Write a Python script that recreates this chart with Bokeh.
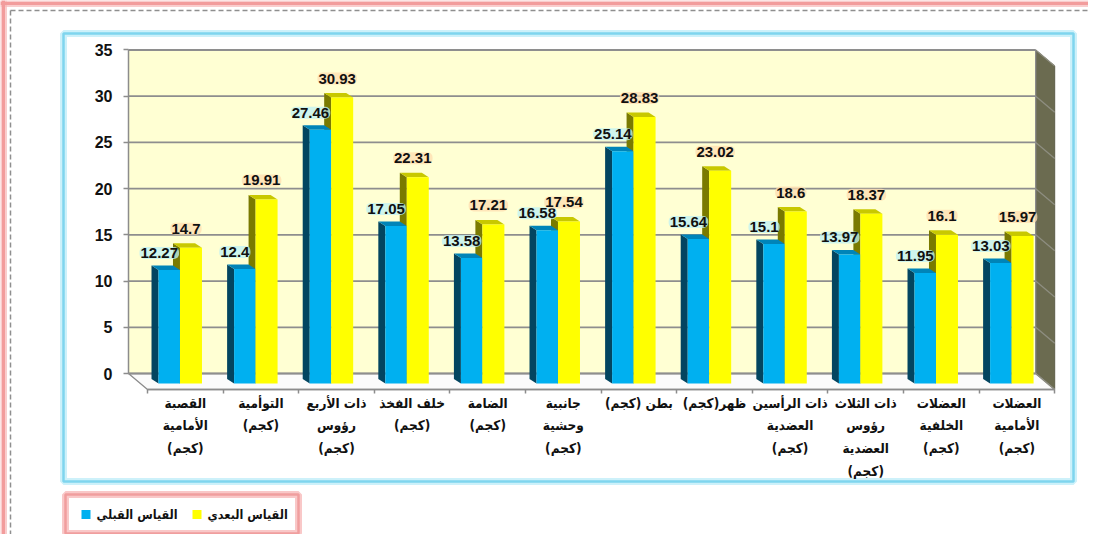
from bokeh.plotting import figure
from bokeh.models import Range1d, FixedTicker, LinearAxis, CustomJSTickFormatter
from bokeh.core.properties import value
from bokeh.embed import file_html
from bokeh.resources import INLINE

# ---------------- data ----------------
categories = [
    "القصبة\nالأمامية\n(كجم)",
    "التوأمية\n(كجم)",
    "ذات الأربع\nرؤوس\n(كجم)",
    "خلف الفخذ\n(كجم)",
    "الضامة\n(كجم)",
    "جانبية\nوحشية\n(كجم)",
    "بطن (كجم)",
    "ظهر(كجم)",
    "ذات الرأسين\nالعضدية\n(كجم)",
    "ذات الثلاث\nرؤوس\nالعضدية\n(كجم)",
    "العضلات\nالخلفية\n(كجم)",
    "العضلات\nالأمامية\n(كجم)",
]
pre_values = [12.27, 12.4, 27.46, 17.05, 13.58, 16.58, 25.14, 15.64, 15.1, 13.97, 11.95, 13.03]
post_values = [14.7, 19.91, 30.93, 22.31, 17.21, 17.54, 28.83, 23.02, 18.6, 18.37, 16.1, 15.97]
y_ticks = [0, 5, 10, 15, 20, 25, 30, 35]
series_names = ["القياس القبلي", "القياس البعدي"]
series_colors = ["#00B0F0", "#FFFF00"]

# ---------------- layout helpers ----------------
W, H = 1088, 534
PX, PY = 75.6, 9.243        # pixels per category / per value unit
OX, OY = 128, 373           # canvas position of back-wall origin
def dx(px): return px / PX
def dy(py): return py / PY
def X(cx): return (cx - OX) / PX
def Y(cy): return (OY - cy) / PY

n = len(categories)
ymin, ymax = y_ticks[0], y_ticks[-1]
DX, DY = dx(19), dy(16)          # floor / side-wall depth
FB = -dy(10)                     # bar front base
BDX, BDY = dx(7), dy(4.5)        # bar depth
BL, BM, BR = 0.397, 0.681, 0.972 # bar slots in category

AR_FONT = "DejaVu Sans Condensed"
NUM_FONT = "Liberation Sans"

p = figure(width=W, height=H, x_range=Range1d(X(0), X(W)), y_range=Range1d(Y(H), Y(0)),
           output_backend="svg", toolbar_location=None, min_border=0,
           x_axis_location=None, y_axis_location=None,
           background_fill_color="white", border_fill_color="white", outline_line_color=None)
p.grid.visible = False

# ---------------- decorations ----------------
# outer page frame (pink glow + dashed line)
p.segment(x0=[X(0), X(3)], y0=[Y(3), Y(0)], x1=[X(W), X(3)], y1=[Y(3), Y(H)],
          line_color="#F7B8B8", line_width=7, line_alpha=0.7)
p.segment(x0=[X(0), X(3)], y0=[Y(3), Y(0)], x1=[X(W), X(3)], y1=[Y(3), Y(H)],
          line_color="#F29C9C", line_width=3)
p.segment(x0=[X(10), X(10)], y0=[Y(10), Y(10)], x1=[X(W), X(10)], y1=[Y(10), Y(H)],
          line_color="#8F8F8F", line_width=1.5, line_dash="5 3")
# chart box (cyan)
p.quad(left=X(63), right=X(1073), top=Y(33), bottom=Y(481),
       fill_color="white", line_color="#CDF1FA", line_width=7)
p.quad(left=X(63), right=X(1073), top=Y(33), bottom=Y(481),
       fill_color=None, line_color="#7FD5EE", line_width=2.5)

# ---------------- 3D walls ----------------
p.quad(left=0, right=n, bottom=ymin, top=ymax, fill_color="#FFFFD3", line_color=None)
p.patch([n, n + DX, n + DX, n], [ymax, ymax - DY, ymin - DY, ymin],
        fill_color="#6B6B50", line_color="#5E5E48", line_width=1)
p.patch([0, n, n + DX, DX], [ymin, ymin, ymin - DY, ymin - DY],
        fill_color="#FBFBFB", line_color="#8C8C8C", line_width=1.3)
# gridlines on back wall and side wall
p.segment(x0=[0] * len(y_ticks), y0=y_ticks, x1=[n] * len(y_ticks), y1=y_ticks,
          line_color="#8E8E8E", line_width=1.8)
p.segment(x0=[n] * len(y_ticks), y0=y_ticks, x1=[n + DX] * len(y_ticks), y1=[t - DY for t in y_ticks],
          line_color="#8E8E80", line_width=1.3)
p.segment(x0=[n], y0=[ymin], x1=[n], y1=[ymax], line_color="#8E8E8E", line_width=1.3)

# ---------------- bars ----------------
idx = list(range(n))
def side(xe, v):
    return [xe, xe, xe - BDX, xe - BDX], [FB, v + FB, v + FB + BDY, FB + BDY]
def top(xl, xr, v):
    return [xl, xr, xr - BDX, xl - BDX], [v + FB, v + FB, v + FB + BDY, v + FB + BDY]

ys_side = [side(i + BM, v) for i, v in zip(idx, post_values)]
p.patches(xs=[s[0] for s in ys_side], ys=[s[1] for s in ys_side], fill_color="#7A7A00", line_color=None)
ys_top = [top(i + BM, i + BR, v) for i, v in zip(idx, post_values)]
p.patches(xs=[s[0] for s in ys_top], ys=[s[1] for s in ys_top], fill_color="#C8C800", line_color=None)

bs_side = [side(i + BL, v) for i, v in zip(idx, pre_values)]
p.patches(xs=[s[0] for s in bs_side], ys=[s[1] for s in bs_side], fill_color="#034560", line_color=None)
bs_top = [top(i + BL, i + BM, v) for i, v in zip(idx, pre_values)]
p.patches(xs=[s[0] for s in bs_top], ys=[s[1] for s in bs_top], fill_color="#0084B8", line_color=None)
p.quad(left=[i + BL for i in idx], right=[i + BM for i in idx],
       bottom=[FB] * n, top=[v + FB for v in pre_values],
       fill_color=series_colors[0], line_color=None)
p.quad(left=[i + BM for i in idx], right=[i + BR for i in idx],
       bottom=[FB] * n, top=[v + FB for v in post_values],
       fill_color=series_colors[1], line_color=None)

# ---------------- data labels ----------------
LAB_UP = dy(17)
p.text(x=[i + (BL + BM) / 2 - dx(10) for i in idx], y=[v + FB + LAB_UP for v in pre_values],
       text=[str(v) for v in pre_values], text_align="center", text_baseline="middle",
       text_font=value(NUM_FONT), text_font_style="bold", text_font_size="15px", text_color="#111111",
       background_fill_color="#BFF2F4", background_fill_alpha=0.75, border_radius=5, padding=1)
p.text(x=[i + (BM + BR) / 2 - dx(5) for i in idx], y=[v + FB + LAB_UP + dy(2) for v in post_values],
       text=[str(v) for v in post_values], text_align="center", text_baseline="middle",
       text_font=value(NUM_FONT), text_font_style="bold", text_font_size="15px", text_color="#111111",
       background_fill_color="#FFDDB0", background_fill_alpha=0.75, border_radius=5, padding=1)

# ---------------- category labels ----------------
p.text(x=[i + 0.5 + DX for i in idx], y=[ymin - dy(21)] * n, text=categories,
       text_align="center", text_baseline="top", text_line_height=1.42,
       text_font=value(AR_FONT), text_font_style="bold", text_font_size="13.5px", text_color="#111111")

# ---------------- axes ----------------
yaxis = LinearAxis(fixed_location=0, bounds=(ymin, ymax), ticker=FixedTicker(ticks=y_ticks),
                   axis_line_color="#8C8C8C", axis_line_width=1.5,
                   major_tick_line_color="#8C8C8C", major_tick_line_width=1.5,
                   major_tick_out=5, major_tick_in=0, minor_tick_line_color=None,
                   major_label_text_font=NUM_FONT, major_label_text_font_style="bold",
                   major_label_text_font_size="16px", major_label_text_color="#111111",
                   major_label_standoff=11)
p.add_layout(yaxis, "left")
xaxis = LinearAxis(fixed_location=ymin - DY, bounds=(DX, n + DX),
                   ticker=FixedTicker(ticks=[k + DX for k in range(n + 1)]),
                   formatter=CustomJSTickFormatter(code="return ''"),
                   axis_line_color="#8C8C8C", axis_line_width=1.5,
                   major_tick_line_color="#8C8C8C", major_tick_line_width=1.5,
                   major_tick_out=4, major_tick_in=0, minor_tick_line_color=None)
p.add_layout(xaxis, "below")

# ---------------- legend (drawn box) ----------------
p.quad(left=X(65), right=X(298), top=Y(494), bottom=Y(533),
       fill_color="white", line_color="#F9C8C8", line_width=7)
p.quad(left=X(65), right=X(298), top=Y(494), bottom=Y(533),
       fill_color=None, line_color="#F09E9E", line_width=2.5)
leg_sq_x = [X(81), X(192)]
leg_txt_x = [X(96), X(207)]
p.quad(left=leg_sq_x, right=[x + dx(9) for x in leg_sq_x],
       bottom=[Y(518.5)] * 2, top=[Y(509.5)] * 2, fill_color=series_colors, line_color=None)
p.text(x=leg_txt_x, y=[Y(514)] * 2, text=series_names, text_align="left", text_baseline="middle",
       text_font=value(AR_FONT), text_font_style="bold", text_font_size="12.5px", text_color="#111111")

open("out.html", "w").write(file_html(p, INLINE))
